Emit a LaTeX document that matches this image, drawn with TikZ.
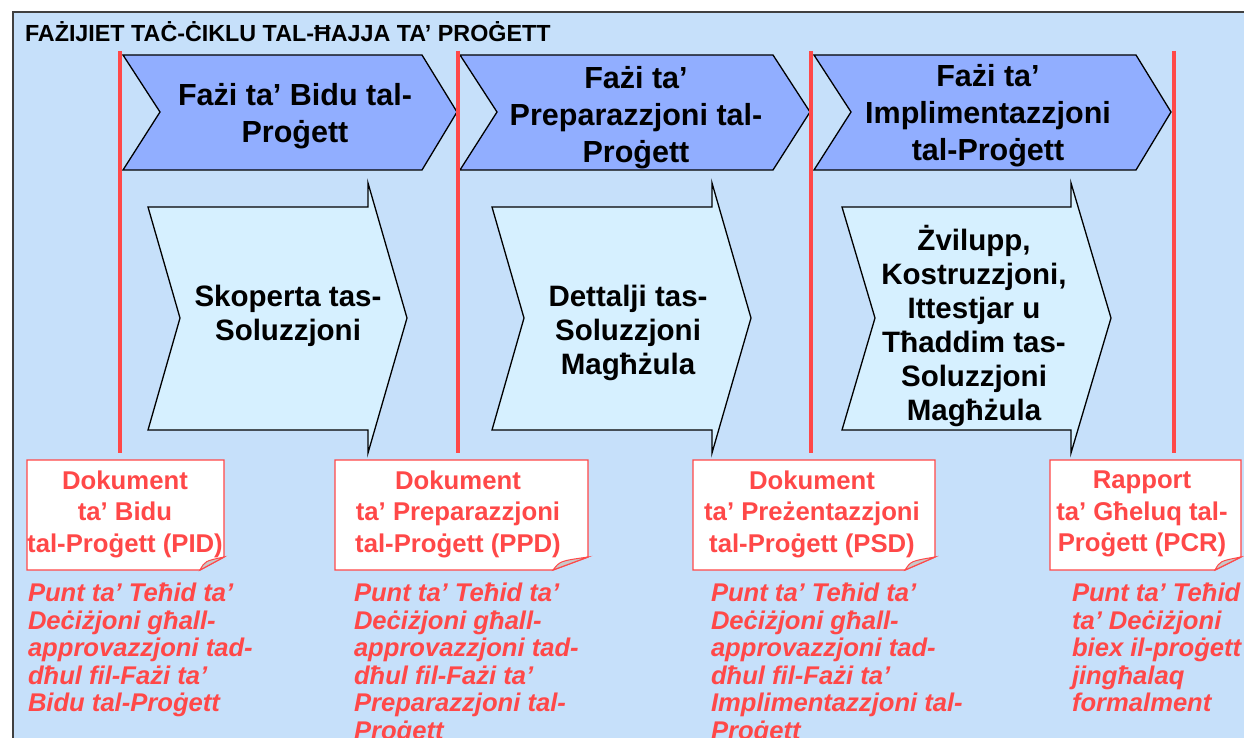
\documentclass[tikz,border=0pt]{standalone}
\usepackage{fontspec}
\setmainfont{Liberation Sans}
\definecolor{framebg}{RGB}{198,224,250}
\definecolor{phaseblue}{RGB}{145,174,255}
\definecolor{stageblue}{RGB}{214,240,255}
\definecolor{gatered}{RGB}{255,72,72}
\definecolor{foldgray}{RGB}{200,200,200}
\begin{document}
\begin{tikzpicture}[x=1pt,y=-1pt,inner sep=0pt,outer sep=0pt,
phase/.style={draw,fill=phaseblue,line width=1.3pt},
stage/.style={draw,fill=stageblue,line width=1.3pt},
gate/.style={draw=gatered,line width=3.2pt},
docbox/.style={draw=gatered,fill=white,line width=1.4pt},
fold/.style={draw=gatered,fill=foldgray,line width=1pt},
phasetext/.style={align=center,font=\bfseries\fontsize{30.5pt}{37pt}\selectfont},
stagetext/.style={align=center,font=\bfseries\fontsize{29.5pt}{34pt}\selectfont},
doctext/.style={align=center,text=gatered,font=\bfseries\fontsize{25.7pt}{31.5pt}\selectfont},
pointtext/.style={anchor=north west,align=left,text=gatered,font=\bfseries\itshape\fontsize{25.6pt}{27.5pt}\selectfont}]

\useasboundingbox (0,0) rectangle (1244,738);

% frame and title
\draw[fill=framebg,draw=black!75,line width=1.6pt] (13,12) rectangle (1260,760);
\node[anchor=base west,font=\bfseries\fontsize{23.3pt}{28pt}\selectfont] (title) at (25,42) {FAŻIJIET TAĊ-ĊIKLU TAL-ĦAJJA TA’ PROĠETT};

% phases
\draw[phase] (123,55) -- (422,55) -- (457,112) -- (422,170) -- (123,170) -- (160,112) -- cycle;
\node[phasetext] (ph1) at (295,116) {Fażi ta’ Bidu tal-\\Proġett};
\draw[phase] (460,55) -- (773,55) -- (810,112) -- (773,170) -- (460,170) -- (497,112) -- cycle;
\node[phasetext] (ph2) at (636,118) {Fażi ta’\\Preparazzjoni tal-\\Proġett};
\draw[phase] (814,55) -- (1136,55) -- (1171,112) -- (1136,170) -- (814,170) -- (851,112) -- cycle;
\node[phasetext] (ph3) at (988,116) {Fażi ta’\\Implimentazzjoni\\tal-Proġett};

% stages
\draw[stage] (148,207) -- (368,207) -- (368,183) -- (407,318) -- (368,453) -- (368,430) -- (148,430) -- (180,318) -- cycle;
\node[stagetext] (st1) at (288,316) {Skoperta tas-\\Soluzzjoni};
\draw[stage] (492,207) -- (712,207) -- (712,183) -- (751,318) -- (712,453) -- (712,430) -- (492,430) -- (524,318) -- cycle;
\node[stagetext] (st2) at (628,333) {Dettalji tas-\\Soluzzjoni\\Magħżula};
\draw[stage] (842,207) -- (1071,207) -- (1071,183) -- (1111,318) -- (1071,453) -- (1071,430) -- (842,430) -- (875,318) -- cycle;
\node[stagetext] (st3) at (974,326) {Żvilupp,\\Kostruzzjoni,\\Ittestjar u\\Tħaddim tas-\\Soluzzjoni\\Magħżula};

% decision gates
\draw[gate] (120,51) -- (120,453);
\draw[gate] (458,51) -- (458,453);
\draw[gate] (811,51) -- (811,453);
\draw[gate] (1174,51) -- (1174,453);

% documents
\draw[docbox] (27,460) -- (224,460) -- (224,557) -- (200,570) -- (27,570) -- cycle;
\draw[fold] (200,570) .. controls (205,561) .. (224,557) -- cycle;
\node[doctext] (pid) at (125,514) {Dokument\\ta’ Bidu\\tal-Proġett (PID)};
\draw[docbox] (335,460) -- (588,460) -- (588,557) -- (553,570) -- (335,570) -- cycle;
\draw[fold] (553,570) .. controls (560,561) .. (588,557) -- cycle;
\node[doctext] (ppd) at (458,514) {Dokument\\ta’ Preparazzjoni\\tal-Proġett (PPD)};
\draw[docbox] (693,460) -- (935,460) -- (935,557) -- (905,570) -- (693,570) -- cycle;
\draw[fold] (905,570) .. controls (911,561) .. (935,557) -- cycle;
\node[doctext] (psd) at (812,514) {Dokument\\ta’ Preżentazzjoni\\tal-Proġett (PSD)};
\draw[docbox] (1050,460) -- (1241,460) -- (1241,557) -- (1215,570) -- (1050,570) -- cycle;
\draw[fold] (1215,570) .. controls (1220,561) .. (1241,557) -- cycle;
\node[doctext] (pcr) at (1142,514) {Rapport\\ta’ Għeluq tal-\\Proġett (PCR)};

% decision points
\node[pointtext] (dp1) at (28,583) {Punt ta’ Teħid ta’\\Deċiżjoni għall-\\approvazzjoni tad-\\dħul fil-Fażi ta’\\Bidu tal-Proġett};
\node[pointtext] (dp2) at (354,583) {Punt ta’ Teħid ta’\\Deċiżjoni għall-\\approvazzjoni tad-\\dħul fil-Fażi ta’\\Preparazzjoni tal-\\Proġett};
\node[pointtext] (dp3) at (711,583) {Punt ta’ Teħid ta’\\Deċiżjoni għall-\\approvazzjoni tad-\\dħul fil-Fażi ta’\\Implimentazzjoni tal-\\Proġett};
\node[pointtext] (dp4) at (1072,583) {Punt ta’ Teħid\\ta’ Deċiżjoni\\biex il-proġett\\jingħalaq\\formalment};

\end{tikzpicture}
\end{document}
